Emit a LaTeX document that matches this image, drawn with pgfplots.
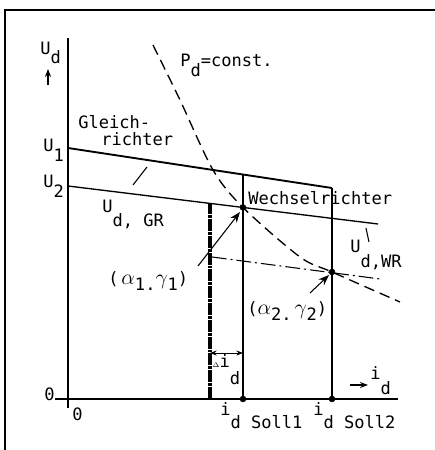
\documentclass[border=0pt]{standalone}
\usepackage{pgfplots}
\pgfplotsset{compat=1.18}
\usepackage{fontspec}
\setmainfont{DejaVu Sans Mono}
\usetikzlibrary{arrows.meta}
\tikzset{lbl/.style={anchor=base west, inner sep=0pt}}
% lowered "subscript" in the same size, as in the drawing
\newcommand\sub[2][1ex]{\raisebox{-#1}{#2}}

\begin{document}
\begin{tikzpicture}[font=\fontsize{12.8}{15}\selectfont]
\begin{axis}[x=0.75pt, y=0.75pt,
  xmin=-68, xmax=367, ymin=-51, ymax=399,
  hide axis, clip=false]

% frame
\addplot[line width=1.2pt] coordinates {(-63,-51) (-63,389) (367,389)};
% axes
\addplot[line width=1.1pt] coordinates {(0,-9) (0,361)};
\addplot[line width=1.1pt] coordinates {(-13,0) (330,0)};

% Gleichrichter characteristic
\addplot[line width=1.4pt] coordinates {(0,251) (264,211)};
% Wechselrichter characteristic
\addplot[line width=1pt] coordinates {(0,213) (310,175)};

% verticals at the set currents
\addplot[line width=1pt] coordinates {(175,0) (175,224.5)};
\addplot[line width=1pt] coordinates {(264,0) (264,211)};
\addplot[line width=2.3pt, dash pattern=on 9pt off 0.8pt on 2pt off 0.8pt] coordinates {(142,0) (142,195.6)};

% P_d = const.
\addplot[line width=1pt, dash pattern=on 8pt off 4.5pt, smooth] coordinates {
  (85,354) (112,299) (145,229) (175,191.5) (232,142) (264,127) (332,97)};

% shifted inverter line
\addplot[line width=0.8pt, dash pattern=on 11pt off 3pt on 1.5pt off 3pt] coordinates {(144,142) (312,120)};

% operating points
\addplot[only marks, mark=*, mark size=2.2pt] coordinates {(175,191.5) (264,127) (175,0) (264,0)};

% arrows and leaders
\addplot[line width=0.8pt, -{Stealth[length=8pt]}] coordinates {(130,133) (172,187)};
\addplot[line width=0.8pt, -{Stealth[length=8pt]}] coordinates {(242,106) (261,124)};
\addplot[line width=0.7pt, {Stealth[length=5pt]}-{Stealth[length=5pt]}] coordinates {(142,46) (175,46)};
\addplot[line width=1pt, -{Stealth[length=6pt]}] coordinates {(-20,314) (-20,330)};
\addplot[line width=1pt, -{Stealth[length=6pt]}] coordinates {(282,14) (300,14)};
\addplot[line width=0.8pt] coordinates {(65,214) (79,232)};
\addplot[line width=0.8pt] coordinates {(298,171) (301,157)};

% labels
\node[lbl] at (-28,344) {U\sub[0.9ex]{d}};
\node[lbl] at (112,332) {P\sub{d}=const.};
\node[lbl] at (10,270) {Gleich-};
\node[lbl] at (33,253) {richter};
\node[lbl] at (-25,247) {U\sub{1}};
\node[lbl] at (-25,211) {U\sub{2}};
\node[lbl] at (34,186) {U\sub[1.4ex]{d, GR}};
\node[lbl] at (180,194) {Wechselrichter};
\node[lbl] at (282,146) {U\sub[1.6ex]{d,WR}};
\node[lbl] at (40,114) {(\,\scalebox{1.35}{$\alpha$}\sub[0.6ex]{1.}\scalebox{1.35}{$\gamma$}\sub[0.6ex]{1})};
\node[lbl] at (179,84) {(\scalebox{1.35}{$\alpha$}\sub[0.6ex]{2.}\,\scalebox{1.35}{$\gamma$}\sub[0.6ex]{2})};
\node[lbl] at (144,31) {{\tiny$\Delta$}i\sub[1.8ex]{d}};
\node[lbl] at (302,19) {i\sub[1.6ex]{d}};
\node[lbl] at (-24,-1) {0};
\node[lbl] at (4,-21) {0};
\node[lbl] at (152,-16) {i\sub[1.4ex]{d Soll1}};
\node[lbl] at (245,-16) {i\sub[1.4ex]{d Soll2}};

\coordinate (ll) at (-68,-51);
\coordinate (ur) at (367,399);
\end{axis}
\pgfresetboundingbox
\path (ll) rectangle (ur);
\end{tikzpicture}
\end{document}
